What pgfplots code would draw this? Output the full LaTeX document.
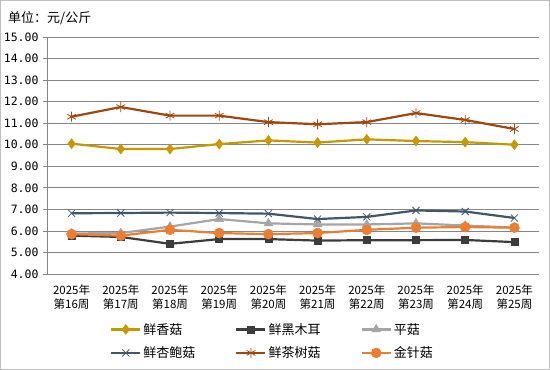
\documentclass[border=0pt]{standalone}
\usepackage{pgfplots}
\pgfplotsset{compat=1.18}
\usepackage{fontspec}
\setmainfont{Noto Sans CJK SC}
\newfontfamily\monof{DejaVu Sans Mono}
\definecolor{cXG}{RGB}{196,154,0}
\definecolor{cHM}{RGB}{60,60,60}
\definecolor{cPG}{RGB}{165,165,165}
\definecolor{cXB}{RGB}{68,84,106}
\definecolor{cCS}{RGB}{158,72,14}
\definecolor{cJZ}{RGB}{237,125,49}
\definecolor{gridc}{RGB}{134,134,134}
\begin{document}
\begin{tikzpicture}[x=1pt,y=1pt]
\draw[color=gray!50,line width=1pt] (0.5,0.5) rectangle (549.5,369.5);
\node[anchor=west,font=\fontsize{13}{15}\selectfont,inner sep=0pt] at (8,352) {单位：元/公斤};
\begin{axis}[
  at={(47pt,96pt)}, anchor=south west,
  scale only axis, width=492pt, height=237pt,
  xmin=-0.5, xmax=9.5, ymin=4, ymax=15,
  axis x line*=bottom, axis y line*=left,
  axis line style={gridc,-},
  ytick={4,5,...,15},
  y tick label style={/pgf/number format/fixed,/pgf/number format/fixed zerofill,/pgf/number format/precision=2,/pgf/number format/assume math mode=true,font=\monof\fontsize{11.5}{13}\selectfont,xshift=-1pt},
  ymajorgrids, grid style={gridc,line width=0.8pt},
  xtick={0,...,9},
  xticklabels={{2025年\\第16周},{2025年\\第17周},{2025年\\第18周},{2025年\\第19周},{2025年\\第20周},{2025年\\第21周},{2025年\\第22周},{2025年\\第23周},{2025年\\第24周},{2025年\\第25周}},
  x tick label style={align=center,yshift=-3pt,font=\fontsize{11.5}{14}\selectfont},
  major x tick style={draw=none},
  extra x ticks={-0.5,0.5,...,9.5},
  extra x tick labels={},
  extra x tick style={tick style={gridc,line width=0.8pt},major tick length=5pt, xmajorgrids=false},
  tick align=outside,
  major tick length=4pt,
  y tick style={gridc,line width=0.8pt},
  every axis plot/.append style={line width=2.2pt},
  legend columns=3,
  legend style={at={(60pt,-45pt)},anchor=north west,draw=none,fill=none,
    font=\fontsize{13}{15}\selectfont, row sep=7pt},
  legend cell align=left,
  legend image code/.code={\draw[mark repeat=2,mark phase=2,#1] plot coordinates {(0pt,0pt) (14.5pt,0pt) (29pt,0pt)};},
]
\addplot[cXG,mark=diamond*,mark size=5pt,mark options={solid,line width=0.5pt}] coordinates {(0,10.05)(1,9.8)(2,9.8)(3,10.03)(4,10.2)(5,10.1)(6,10.25)(7,10.17)(8,10.12)(9,10.0)};
\addlegendentry{\makebox[90pt][l]{鲜香菇}}
\addplot[cHM,mark=square*,mark size=3.5pt,mark options={solid,line width=0.5pt}] coordinates {(0,5.78)(1,5.72)(2,5.4)(3,5.62)(4,5.62)(5,5.55)(6,5.57)(7,5.57)(8,5.58)(9,5.48)};
\addlegendentry{\makebox[90pt][l]{鲜黑木耳}}
\addplot[cPG,mark=triangle*,mark size=5pt,mark options={solid,line width=0.5pt}] coordinates {(0,5.88)(1,5.9)(2,6.2)(3,6.55)(4,6.35)(5,6.3)(6,6.3)(7,6.35)(8,6.25)(9,6.15)};
\addlegendentry{平菇}
\addplot[cXB,mark=x,mark size=5pt,mark options={solid,line width=0.8pt}] coordinates {(0,6.82)(1,6.83)(2,6.85)(3,6.83)(4,6.8)(5,6.55)(6,6.65)(7,6.95)(8,6.9)(9,6.6)};
\addlegendentry{\makebox[90pt][l]{鲜杏鲍菇}}
\addplot[cCS,mark=asterisk,mark size=5pt,mark options={solid,line width=0.8pt}] coordinates {(0,11.3)(1,11.75)(2,11.35)(3,11.35)(4,11.05)(5,10.95)(6,11.05)(7,11.47)(8,11.15)(9,10.73)};
\addlegendentry{\makebox[90pt][l]{鲜茶树菇}}
\addplot[cJZ,mark=*,mark size=5pt,mark options={solid,line width=0.5pt}] coordinates {(0,5.85)(1,5.78)(2,6.05)(3,5.9)(4,5.85)(5,5.9)(6,6.05)(7,6.15)(8,6.18)(9,6.15)};
\addlegendentry{金针菇}
\end{axis}
\end{tikzpicture}
\end{document}
